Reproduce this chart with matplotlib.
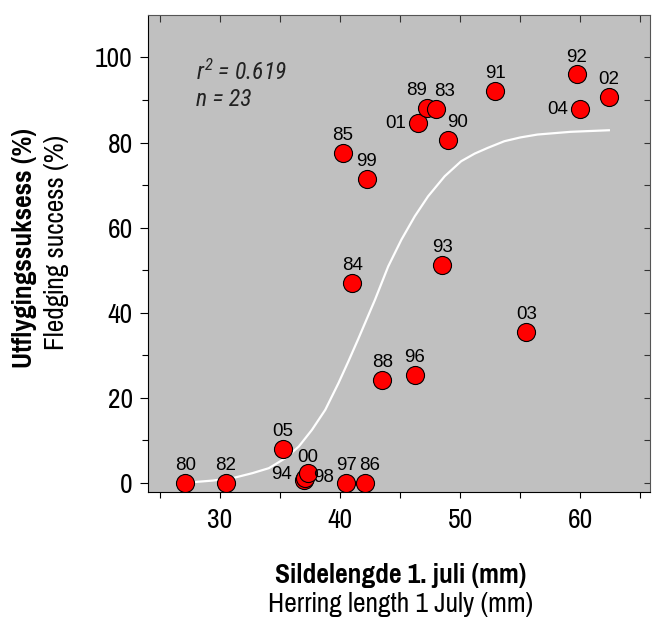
import matplotlib
matplotlib.use("Agg")
import matplotlib.pyplot as plt
from matplotlib import font_manager

# Sildelengde (mm) vs utflygingssuksess (%), one point per year
years = ["80", "82", "05", "94", "98", "00", "97", "86", "84", "85", "99", "88",
         "96", "93", "01", "89", "83", "90", "91", "03", "92", "04", "02"]
length = [27.1, 30.5, 35.2, 37.0, 37.1, 37.3, 40.5, 42.1, 41.0, 40.2, 42.2, 43.5,
          46.2, 48.5, 46.5, 47.2, 48.0, 49.0, 52.9, 55.5, 59.7, 60.0, 62.4]
success = [0.0, 0.0, 8.0, 0.6, 1.2, 2.3, 0.0, 0.0, 47.0, 77.6, 71.5, 24.2,
           25.4, 51.3, 84.7, 88.2, 88.0, 80.7, 92.2, 35.5, 96.0, 88.0, 90.8]

# fitted curve
curve_x = [27.2, 29.36, 31.02, 32.68, 34.06, 35.44, 36.55, 37.65, 38.76, 39.86,
           40.69, 41.5, 42.9, 44.0, 45.1, 46.21, 47.32, 48.7, 50.07, 51.2, 52.29,
           53.67, 55.0, 56.43, 59.19, 62.37]
curve_y = [0.05, 0.54, 1.1, 2.28, 3.46, 5.81, 8.54, 12.47, 17.18, 23.46,
           28.6, 33.8, 43.06, 50.89, 57.18, 62.66, 67.36, 72.07, 75.6, 77.4, 78.75,
           80.31, 81.2, 81.88, 82.52, 82.89]

r2 = 0.619
n = 23

# condensed font like the original, if one is installed
fonts = font_manager.fontManager.ttflist
have = {f.name for f in fonts}
have_it = {f.name for f in fonts if f.style == "italic"}
cands = ["Liberation Sans Narrow", "Arial Narrow", "Pragati Narrow", "Roboto Condensed",
         "Archivo Narrow", "PT Sans Narrow", "Encode Sans Condensed",
         "IBM Plex Sans Condensed", "Asap Condensed", "Open Sans Condensed"]
narrow = next((c for c in cands if c in have), "DejaVu Sans")
narrow_it = next((c for c in cands if c in have_it), narrow)

plt.rcParams["mathtext.fontset"] = "custom"
plt.rcParams["mathtext.it"] = narrow_it + ":italic"
plt.rcParams["mathtext.rm"] = narrow_it + ":italic"

fig = plt.figure(figsize=(6.52, 6.21), dpi=100)
ax = fig.add_axes([0.227, 0.208, 0.770, 0.768])
ax.set_facecolor("#c0c0c0")

ax.plot(curve_x, curve_y, color="white", lw=1.6, zorder=2)
ax.plot(length, success, "o", ms=13, mfc="#ff0000", mec="black", mew=0.8, zorder=3)

# label offsets (points) where the label is not straight above the marker
offsets = {"01": (-16, -1), "04": (-16, -1), "89": (-7, 12), "83": (6, 12),
           "90": (7, 12), "94": (-16, 4), "98": (13, 0), "00": (0, 11),
           "86": (3, 12.5)}
for yr, x, y in zip(years, length, success):
    dx, dy = offsets.get(yr, (0, 12.5))
    ax.annotate(yr, (x, y), xytext=(dx, dy), textcoords="offset points",
                ha="center", va="center", fontsize=13.5, family="Liberation Sans",
                zorder=4)

ax.text(28.0, 96.4, r"$r^2$ = %.3f" % r2, fontsize=17, family=narrow_it,
        style="italic", va="center", color="#222222")
ax.text(28.0, 90.0, "n = %d" % n, fontsize=17, family=narrow_it,
        style="italic", va="center", color="#222222")

ax.set_xlim(24, 65.8)
ax.set_ylim(-2.1, 110)
ax.set_xticks([30, 40, 50, 60])
ax.set_xticks([25, 35, 45, 55, 65], minor=True)
ax.set_yticks([0, 20, 40, 60, 80, 100])
ax.set_yticks([10, 30, 50, 70, 90], minor=True)
ax.tick_params(axis="x", which="both", direction="out", length=4, width=0.8,
               labelsize=21.5, pad=8)
ax.tick_params(axis="y", which="major", direction="out", length=6, width=0.8,
               labelsize=21.5, pad=5)
ax.tick_params(axis="y", which="minor", direction="out", length=4, width=0.8)
for lab in ax.get_xticklabels() + ax.get_yticklabels():
    lab.set_family(narrow)

for side in ["top", "right"]:
    ax.spines[side].set_color("#555555")

top = ax.secondary_xaxis("top")
top.set_xticks([25, 30, 35, 40, 45, 50, 55, 60, 65])
top.tick_params(direction="in", length=5, width=0.8, labeltop=False, color="#333333")
top.spines["top"].set_visible(False)
right = ax.secondary_yaxis("right")
right.set_yticks([0, 10, 20, 30, 40, 50, 60, 70, 80, 90, 100])
right.tick_params(direction="in", length=4, width=0.8, labelright=False, color="#333333")
right.spines["right"].set_visible(False)

fig.text(0.037, 0.601, "Utflygingssuksess (%)", rotation=90, ha="center", va="center",
         fontsize=21.5, fontweight="bold", family=narrow)
fig.text(0.086, 0.609, "Fledging success (%)", rotation=90, ha="center", va="center",
         fontsize=21.5, family=narrow)
fig.text(0.615, 0.074, "Sildelengde 1. juli (mm)", ha="center", va="center",
         fontsize=21.5, fontweight="bold", family=narrow)
fig.text(0.615, 0.026, "Herring length 1 July (mm)", ha="center", va="center",
         fontsize=21.5, family=narrow)

fig.savefig("out.png", dpi=100)
